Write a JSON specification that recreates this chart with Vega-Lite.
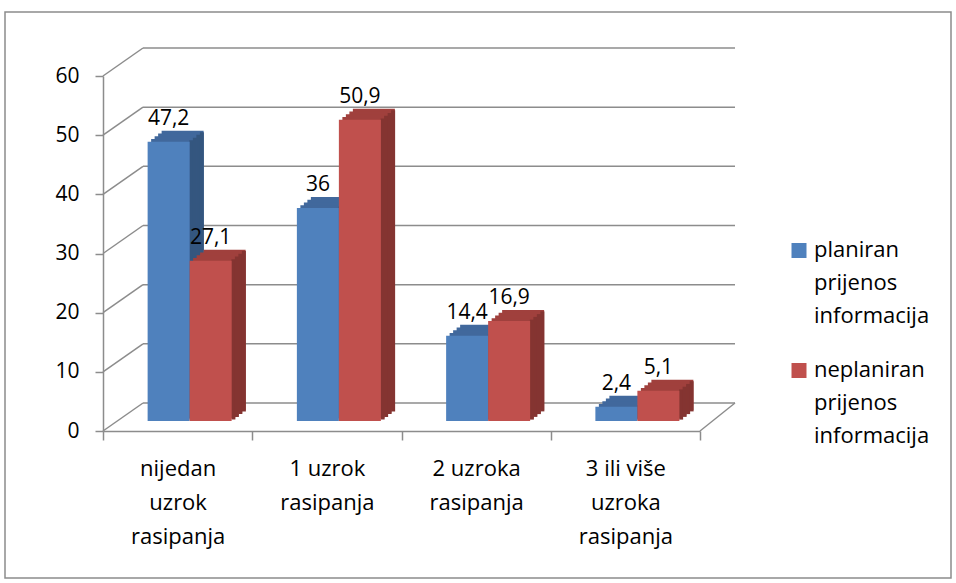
{
  "$schema": "https://vega.github.io/schema/vega-lite/v6.json",
  "width": 946,
  "height": 566,
  "autosize": {"type": "none"},
  "padding": {"left": 5, "top": 12, "right": 5, "bottom": 5},
  "background": "white",
  "config": {
    "view": {"stroke": "#8c8c8c", "strokeWidth": 1.5},
    "font": "Open Sans",
    "locale": {"number": {"decimal": ",", "thousands": ".", "grouping": [3], "currency": ["", ""]}}
  },
  "datasets": {
    "bars": [
      {"kategorija": "nijedan uzrok rasipanja", "serija": "planiran prijenos informacija", "vrijednost": 47.2},
      {"kategorija": "1 uzrok rasipanja", "serija": "planiran prijenos informacija", "vrijednost": 36},
      {"kategorija": "2 uzroka rasipanja", "serija": "planiran prijenos informacija", "vrijednost": 14.4},
      {"kategorija": "3 ili više uzroka rasipanja", "serija": "planiran prijenos informacija", "vrijednost": 2.4},
      {"kategorija": "nijedan uzrok rasipanja", "serija": "neplaniran prijenos informacija", "vrijednost": 27.1},
      {"kategorija": "1 uzrok rasipanja", "serija": "neplaniran prijenos informacija", "vrijednost": 50.9},
      {"kategorija": "2 uzroka rasipanja", "serija": "neplaniran prijenos informacija", "vrijednost": 16.9},
      {"kategorija": "3 ili više uzroka rasipanja", "serija": "neplaniran prijenos informacija", "vrijednost": 5.1}
    ],
    "grid": [{"v": 0}, {"v": 10}, {"v": 20}, {"v": 30}, {"v": 40}, {"v": 50}, {"v": 60}]
  },
  "data": {"name": "bars"},
  "encoding": {
    "x": {
      "field": "kategorija",
      "type": "nominal",
      "scale": {
        "domain": ["nijedan uzrok rasipanja", "1 uzrok rasipanja", "2 uzroka rasipanja", "3 ili više uzroka rasipanja"],
        "range": [98, 695],
        "paddingInner": 0,
        "paddingOuter": 0
      },
      "axis": {
        "title": null,
        "orient": "bottom",
        "offset": -147,
        "labelAngle": 0,
        "labelExpr": "datum.value == '1 uzrok rasipanja' ? ['1 uzrok','rasipanja'] : datum.value == '2 uzroka rasipanja' ? ['2 uzroka','rasipanja'] : datum.value == '3 ili više uzroka rasipanja' ? ['3 ili više','uzroka','rasipanja'] : datum.value == 'nijedan uzrok rasipanja' ? ['nijedan','uzrok','rasipanja'] : ''",
        "labelFont": "Open Sans",
        "labelFontSize": 22,
        "labelColor": "#000",
        "labelLineHeight": 34,
        "labelBaseline": "top",
        "labelPadding": 18,
        "labelLimit": 0,
        "labelOverlap": false,
        "tickBand": "extent",
        "tickSize": 9,
        "tickColor": "#8c8c8c",
        "tickWidth": 1.5,
        "domainColor": "#8c8c8c",
        "domainWidth": 1.5,
        "grid": false
      }
    },
    "y": {
      "field": "vrijednost",
      "type": "quantitative",
      "scale": {"domain": [0, 60], "range": [419, 64], "nice": false},
      "axis": {
        "title": null,
        "orient": "left",
        "offset": -98,
        "values": [0, 10, 20, 30, 40, 50, 60],
        "grid": false,
        "labelFont": "Open Sans",
        "labelFontSize": 21,
        "labelColor": "#000",
        "labelPadding": 16,
        "tickSize": 8,
        "tickColor": "#8c8c8c",
        "tickWidth": 1.5,
        "domainColor": "#8c8c8c",
        "domainWidth": 1.5
      }
    }
  },
  "layer": [
    {
      "data": {"name": "grid"},
      "mark": {"type": "rule", "color": "#8c8c8c", "strokeWidth": 1.5, "xOffset": 40, "x2Offset": 35, "yOffset": -28},
      "encoding": {
        "x": {"datum": "nijedan uzrok rasipanja", "type": "nominal", "bandPosition": 0},
        "x2": {"datum": "3 ili više uzroka rasipanja", "bandPosition": 1},
        "y": {"field": "v", "type": "quantitative"}
      }
    },
    {
      "data": {"name": "grid"},
      "mark": {"type": "rule", "color": "#8c8c8c", "strokeWidth": 1.5, "x2Offset": 40, "y2Offset": -28},
      "encoding": {
        "x": {"datum": "nijedan uzrok rasipanja", "type": "nominal", "bandPosition": 0},
        "x2": {"datum": "nijedan uzrok rasipanja", "bandPosition": 0},
        "y": {"field": "v", "type": "quantitative"},
        "y2": {"field": "v"}
      }
    },
    {
      "data": {"name": "grid"},
      "transform": [{"filter": "datum.v == 0"}],
      "mark": {"type": "rule", "color": "#8c8c8c", "strokeWidth": 1.5, "x2Offset": 35, "y2Offset": -28},
      "encoding": {
        "x": {"datum": "3 ili više uzroka rasipanja", "type": "nominal", "bandPosition": 1},
        "x2": {"datum": "3 ili više uzroka rasipanja", "bandPosition": 1},
        "y": {"field": "v", "type": "quantitative"},
        "y2": {"field": "v"}
      }
    },

    {"transform": [{"filter": "datum.serija == 'planiran prijenos informacija'"}],
     "mark": {"type": "bar", "width": 42, "color": "#41689C", "xOffset": 5, "yOffset": -21, "y2Offset": -21},
     "encoding": {"y2": {"datum": 0}}},
    {"transform": [{"filter": "datum.serija == 'planiran prijenos informacija'"}],
     "mark": {"type": "bar", "width": 42, "color": "#41689C", "xOffset": 1.5, "yOffset": -18.25, "y2Offset": -18.25},
     "encoding": {"y2": {"datum": 0}}},
    {"transform": [{"filter": "datum.serija == 'planiran prijenos informacija'"}],
     "mark": {"type": "bar", "width": 42, "color": "#41689C", "xOffset": -2, "yOffset": -15.5, "y2Offset": -15.5},
     "encoding": {"y2": {"datum": 0}}},
    {"transform": [{"filter": "datum.serija == 'planiran prijenos informacija'"}],
     "mark": {"type": "bar", "width": 42, "color": "#41689C", "xOffset": -5.5, "yOffset": -12.75, "y2Offset": -12.75},
     "encoding": {"y2": {"datum": 0}}},
    {"transform": [{"filter": "datum.serija == 'planiran prijenos informacija'"}],
     "mark": {"type": "bar", "width": 4, "color": "#34567F", "xOffset": 13.75, "yOffset": -11.4, "y2Offset": -11.4},
     "encoding": {"y2": {"datum": 0}}},
    {"transform": [{"filter": "datum.serija == 'planiran prijenos informacija'"}],
     "mark": {"type": "bar", "width": 4, "color": "#34567F", "xOffset": 17.25, "yOffset": -14.1, "y2Offset": -14.1},
     "encoding": {"y2": {"datum": 0}}},
    {"transform": [{"filter": "datum.serija == 'planiran prijenos informacija'"}],
     "mark": {"type": "bar", "width": 4, "color": "#34567F", "xOffset": 20.75, "yOffset": -16.9, "y2Offset": -16.9},
     "encoding": {"y2": {"datum": 0}}},
    {"transform": [{"filter": "datum.serija == 'planiran prijenos informacija'"}],
     "mark": {"type": "bar", "width": 4, "color": "#34567F", "xOffset": 24.25, "yOffset": -19.6, "y2Offset": -19.6},
     "encoding": {"y2": {"datum": 0}}},
    {"transform": [{"filter": "datum.serija == 'planiran prijenos informacija'"}],
     "mark": {"type": "bar", "width": 42, "xOffset": -9, "yOffset": -10, "y2Offset": -10},
     "encoding": {
       "y2": {"datum": 0},
       "color": {
         "field": "serija",
         "type": "nominal",
         "scale": {"domain": ["planiran prijenos informacija", "neplaniran prijenos informacija"], "range": ["#4F81BD", "#C0504D"]},
         "legend": {
           "title": null,
           "orient": "none",
           "legendX": 783,
           "legendY": 217,
           "padding": 0,
           "labelExpr": "split(datum.label, ' ')",
           "labelFont": "Open Sans",
           "labelFontSize": 22,
           "labelColor": "#000",
           "labelBaseline": "top",
           "labelLimit": 400,
           "labelOffset": 4,
           "symbolType": "M-1,0.4H1V2.4H-1Z",
           "symbolSize": 225,
           "symbolStrokeWidth": 0,
           "symbolOpacity": 1,
           "rowPadding": 22,
           "encode": {"labels": {"update": {"lineHeight": {"value": 33}}}}
         }
       }
     }},

    {"transform": [{"filter": "datum.serija == 'neplaniran prijenos informacija'"}],
     "mark": {"type": "bar", "width": 42, "color": "#A0403D", "xOffset": 47, "yOffset": -21, "y2Offset": -21},
     "encoding": {"y2": {"datum": 0}}},
    {"transform": [{"filter": "datum.serija == 'neplaniran prijenos informacija'"}],
     "mark": {"type": "bar", "width": 42, "color": "#A0403D", "xOffset": 43.5, "yOffset": -18.25, "y2Offset": -18.25},
     "encoding": {"y2": {"datum": 0}}},
    {"transform": [{"filter": "datum.serija == 'neplaniran prijenos informacija'"}],
     "mark": {"type": "bar", "width": 42, "color": "#A0403D", "xOffset": 40, "yOffset": -15.5, "y2Offset": -15.5},
     "encoding": {"y2": {"datum": 0}}},
    {"transform": [{"filter": "datum.serija == 'neplaniran prijenos informacija'"}],
     "mark": {"type": "bar", "width": 42, "color": "#A0403D", "xOffset": 36.5, "yOffset": -12.75, "y2Offset": -12.75},
     "encoding": {"y2": {"datum": 0}}},
    {"transform": [{"filter": "datum.serija == 'neplaniran prijenos informacija'"}],
     "mark": {"type": "bar", "width": 4, "color": "#843431", "xOffset": 55.75, "yOffset": -11.4, "y2Offset": -11.4},
     "encoding": {"y2": {"datum": 0}}},
    {"transform": [{"filter": "datum.serija == 'neplaniran prijenos informacija'"}],
     "mark": {"type": "bar", "width": 4, "color": "#843431", "xOffset": 59.25, "yOffset": -14.1, "y2Offset": -14.1},
     "encoding": {"y2": {"datum": 0}}},
    {"transform": [{"filter": "datum.serija == 'neplaniran prijenos informacija'"}],
     "mark": {"type": "bar", "width": 4, "color": "#843431", "xOffset": 62.75, "yOffset": -16.9, "y2Offset": -16.9},
     "encoding": {"y2": {"datum": 0}}},
    {"transform": [{"filter": "datum.serija == 'neplaniran prijenos informacija'"}],
     "mark": {"type": "bar", "width": 4, "color": "#843431", "xOffset": 66.25, "yOffset": -19.6, "y2Offset": -19.6},
     "encoding": {"y2": {"datum": 0}}},
    {"transform": [{"filter": "datum.serija == 'neplaniran prijenos informacija'"}],
     "mark": {"type": "bar", "width": 42, "xOffset": 33, "yOffset": -10, "y2Offset": -10},
     "encoding": {
       "y2": {"datum": 0},
       "color": {"field": "serija", "type": "nominal"}
     }},

    {"transform": [{"filter": "datum.serija == 'planiran prijenos informacija'"}],
     "mark": {"type": "text", "font": "Open Sans", "fontSize": 21, "color": "#000", "align": "center", "baseline": "alphabetic", "xOffset": -9, "yOffset": -27},
     "encoding": {"text": {"field": "vrijednost", "type": "quantitative", "format": ".1~f"}}},
    {"transform": [{"filter": "datum.serija == 'neplaniran prijenos informacija'"}],
     "mark": {"type": "text", "font": "Open Sans", "fontSize": 21, "color": "#000", "align": "center", "baseline": "alphabetic", "xOffset": 33, "yOffset": -27},
     "encoding": {"text": {"field": "vrijednost", "type": "quantitative", "format": ".1~f"}}}
  ]
}
